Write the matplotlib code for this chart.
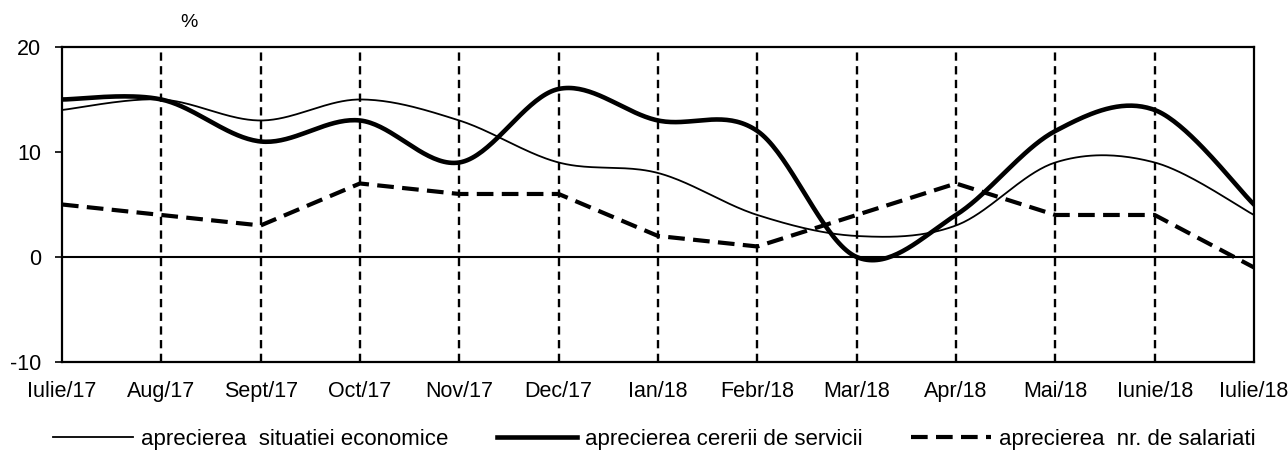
import numpy as np
import matplotlib
matplotlib.use("agg")
import matplotlib.pyplot as plt

plt.rcParams['font.family'] = ['Liberation Sans', 'DejaVu Sans']
plt.rcParams['axes.unicode_minus'] = False

months = ["Iulie/17", "Aug/17", "Sept/17", "Oct/17", "Nov/17", "Dec/17", "Ian/18",
          "Febr/18", "Mar/18", "Apr/18", "Mai/18", "Iunie/18", "Iulie/18"]
economie = [14, 15, 13, 15, 13, 9, 8, 4, 2, 3, 9, 9, 4]
servicii = [15, 15, 11, 13, 9, 16, 13, 12, 0, 4, 12, 14, 5]
salariati = [5, 4, 3, 7, 6, 6, 2, 1, 4, 7, 4, 4, -1]


def smooth(y, n=40):
    # Excel-like smoothed line (Catmull-Rom bezier through the points)
    y = np.asarray(y, float)
    x = np.arange(len(y), dtype=float)
    p = np.vstack([x, y]).T
    pts = [p[0]]
    for i in range(len(p) - 1):
        p0 = p[i - 1] if i > 0 else p[i]
        p1, p2 = p[i], p[i + 1]
        p3 = p[i + 2] if i + 2 < len(p) else p[i + 1]
        c1 = p1 + (p2 - p0) / 6.0
        c2 = p2 - (p3 - p1) / 6.0
        t = np.linspace(0, 1, n)[1:, None]
        seg = ((1 - t) ** 3) * p1 + 3 * ((1 - t) ** 2) * t * c1 + 3 * (1 - t) * t ** 2 * c2 + t ** 3 * p2
        pts.extend(seg)
    pts = np.array(pts)
    return pts[:, 0], pts[:, 1]


fig = plt.figure(figsize=(12.88, 4.5), dpi=100)
ax = fig.add_axes([0.0481, 0.1956, 0.9255, 0.70])

xs = np.arange(len(months))
for xv in xs[1:-1]:
    ax.axvline(xv, color='black', lw=1.7, ls=(0, (3.5, 2.3)), zorder=1)
ax.axhline(0, color='black', lw=1.5, zorder=1)

x1, y1 = smooth(economie)
ax.plot(x1, y1, color='black', lw=1.3, label="aprecierea  situatiei economice", zorder=3)
x2, y2 = smooth(servicii)
ax.plot(x2, y2, color='black', lw=3.3, label="aprecierea cererii de servicii", zorder=3)
ax.plot(xs, salariati, color='black', lw=3.0, ls=(0, (4, 2)),
        label="aprecierea  nr. de salariati", zorder=3)

ax.set_xlim(0, len(months) - 1)
ax.set_ylim(-10, 20)
ax.set_yticks([-10, 0, 10, 20])
ax.set_xticks(xs)
ax.set_xticklabels(months)
ax.tick_params(axis='x', length=0, pad=14, labelsize=15.5)
ax.tick_params(axis='y', length=5, width=1.2, direction='out', pad=10, labelsize=15.5)
for s in ax.spines.values():
    s.set_linewidth(1.6)

fig.text(0.147, 0.95, "%", fontsize=14, ha='center', va='center')

fig.legend(loc='lower center', bbox_to_anchor=(0.508, -0.045), ncol=3, frameon=False,
           fontsize=16, handlelength=3.6, columnspacing=2.2, handletextpad=0.35)

fig.savefig("out.png", dpi=100)
